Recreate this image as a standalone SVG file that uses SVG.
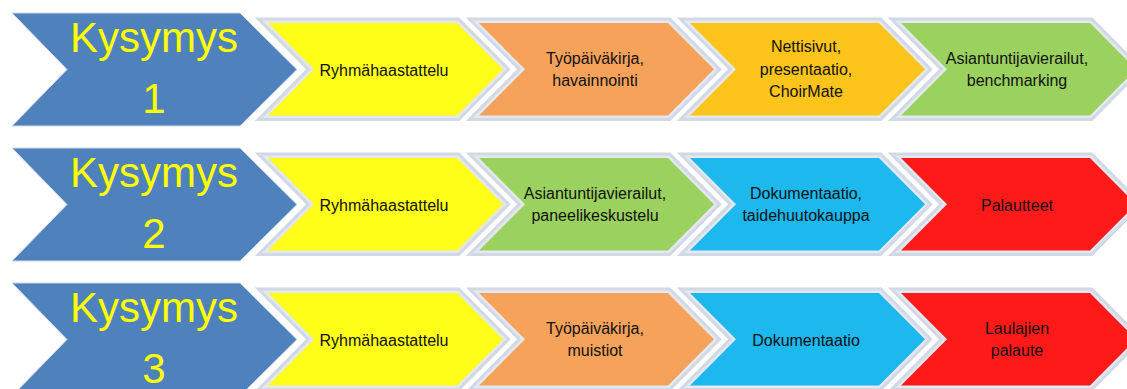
<svg xmlns="http://www.w3.org/2000/svg" xmlns:xlink="http://www.w3.org/1999/xlink" width="1127" height="389" viewBox="0 0 1127 389">
<style>
.b1{fill:none;stroke:#D2D9E5;stroke-width:11;stroke-linejoin:miter;stroke-miterlimit:10}
.b2{fill:none;stroke:#E4E8F0;stroke-width:5;stroke-linejoin:miter;stroke-miterlimit:10}
.yel{fill:#FFFF1A}.ora{fill:#F6A25B}.gol{fill:#FDC41C}.gre{fill:#9BD25F}.cya{fill:#1CB8EE}.red{fill:#FF1A1A}
.big{fill:#4F81BD;stroke:#D0DAE8;stroke-width:1}
.q{font-family:"Liberation Sans",Arial,sans-serif;font-size:42px;fill:#FFFF00;text-anchor:middle}
.t{font-family:"Liberation Sans",Arial,sans-serif;font-size:16px;fill:#111;text-anchor:middle}
</style>
<defs>
<path id="chev" d="M0,0 H189 L235,46.25 L189,92.5 H0 L46,46.25 Z"/>
<path id="bigchev" d="M0,0 H228 L285,56.5 L228,113 H0 L55,56.5 Z"/>
</defs>
<rect width="1127" height="389" fill="#FFFFFF"/>

<!-- Row 1 -->
<g id="q1" transform="translate(12,13)">
<use xlink:href="#bigchev" class="big"/>
<text class="q" x="142" y="39">Kysymys</text>
<text class="q" x="142" y="100">1</text>
</g>
<g id="r1n1" transform="translate(268,23)">
<use xlink:href="#chev" class="b1"/><use xlink:href="#chev" class="b2"/><use xlink:href="#chev" class="yel"/>
<text class="t" x="116" y="53">Ryhmähaastattelu</text>
</g>
<g id="r1n2" transform="translate(479,23)">
<use xlink:href="#chev" class="b1"/><use xlink:href="#chev" class="b2"/><use xlink:href="#chev" class="ora"/>
<text class="t" x="116" y="40.5">Työpäiväkirja,</text>
<text class="t" x="116" y="62.5">havainnointi</text>
</g>
<g id="r1n3" transform="translate(690,23)">
<use xlink:href="#chev" class="b1"/><use xlink:href="#chev" class="b2"/><use xlink:href="#chev" class="gol"/>
<text class="t" x="116" y="29">Nettisivut,</text>
<text class="t" x="116" y="51.5">presentaatio,</text>
<text class="t" x="116" y="74">ChoirMate</text>
</g>
<g id="r1n4" transform="translate(901,23)">
<use xlink:href="#chev" class="b1"/><use xlink:href="#chev" class="b2"/><use xlink:href="#chev" class="gre"/>
<text class="t" x="116" y="40.5">Asiantuntijavierailut,</text>
<text class="t" x="116" y="62.5">benchmarking</text>
</g>

<!-- Row 2 -->
<g id="q2" transform="translate(12,148)">
<use xlink:href="#bigchev" class="big"/>
<text class="q" x="142" y="39">Kysymys</text>
<text class="q" x="142" y="100">2</text>
</g>
<g id="r2n1" transform="translate(268,158)">
<use xlink:href="#chev" class="b1"/><use xlink:href="#chev" class="b2"/><use xlink:href="#chev" class="yel"/>
<text class="t" x="116" y="53">Ryhmähaastattelu</text>
</g>
<g id="r2n2" transform="translate(479,158)">
<use xlink:href="#chev" class="b1"/><use xlink:href="#chev" class="b2"/><use xlink:href="#chev" class="gre"/>
<text class="t" x="116" y="40.5">Asiantuntijavierailut,</text>
<text class="t" x="116" y="62.5">paneelikeskustelu</text>
</g>
<g id="r2n3" transform="translate(690,158)">
<use xlink:href="#chev" class="b1"/><use xlink:href="#chev" class="b2"/><use xlink:href="#chev" class="cya"/>
<text class="t" x="116" y="40.5">Dokumentaatio,</text>
<text class="t" x="116" y="62.5">taidehuutokauppa</text>
</g>
<g id="r2n4" transform="translate(901,158)">
<use xlink:href="#chev" class="b1"/><use xlink:href="#chev" class="b2"/><use xlink:href="#chev" class="red"/>
<text class="t" x="116" y="53">Palautteet</text>
</g>

<!-- Row 3 -->
<g id="q3" transform="translate(12,283)">
<use xlink:href="#bigchev" class="big"/>
<text class="q" x="142" y="39">Kysymys</text>
<text class="q" x="142" y="100">3</text>
</g>
<g id="r3n1" transform="translate(268,293)">
<use xlink:href="#chev" class="b1"/><use xlink:href="#chev" class="b2"/><use xlink:href="#chev" class="yel"/>
<text class="t" x="116" y="53">Ryhmähaastattelu</text>
</g>
<g id="r3n2" transform="translate(479,293)">
<use xlink:href="#chev" class="b1"/><use xlink:href="#chev" class="b2"/><use xlink:href="#chev" class="ora"/>
<text class="t" x="116" y="40.5">Työpäiväkirja,</text>
<text class="t" x="116" y="62.5">muistiot</text>
</g>
<g id="r3n3" transform="translate(690,293)">
<use xlink:href="#chev" class="b1"/><use xlink:href="#chev" class="b2"/><use xlink:href="#chev" class="cya"/>
<text class="t" x="116" y="53">Dokumentaatio</text>
</g>
<g id="r3n4" transform="translate(901,293)">
<use xlink:href="#chev" class="b1"/><use xlink:href="#chev" class="b2"/><use xlink:href="#chev" class="red"/>
<text class="t" x="116" y="40.5">Laulajien</text>
<text class="t" x="116" y="62.5">palaute</text>
</g>

<g id="connectors"></g>
</svg>
